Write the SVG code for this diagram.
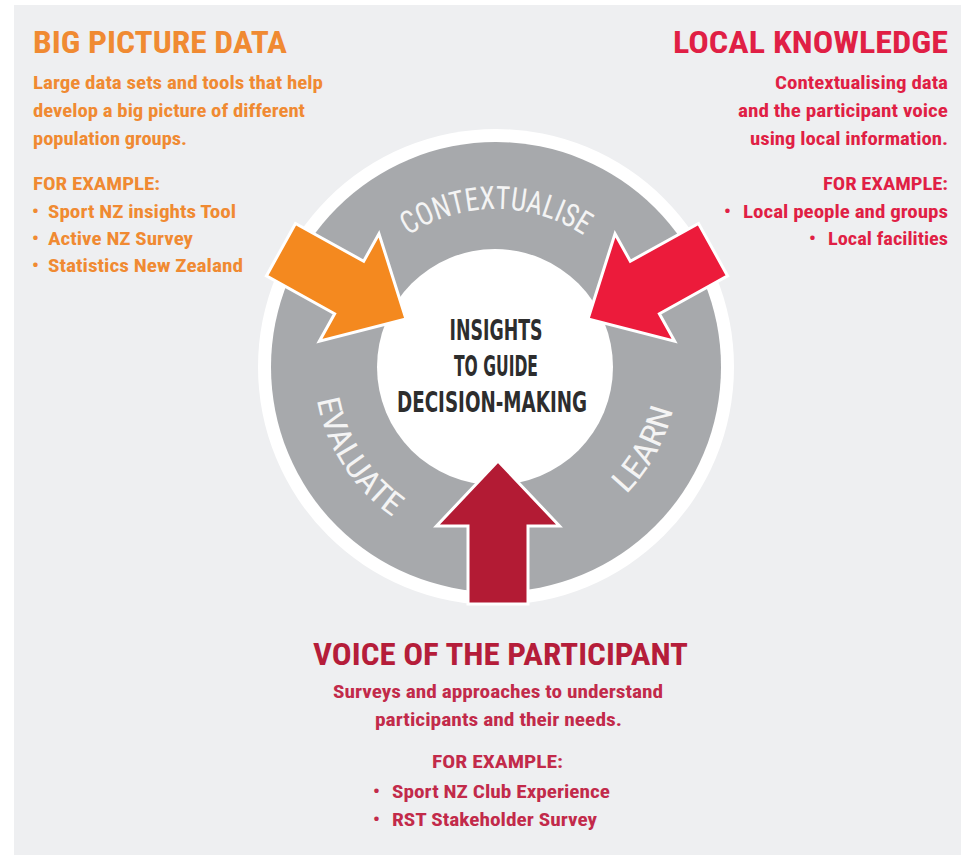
<svg xmlns="http://www.w3.org/2000/svg" xmlns:xlink="http://www.w3.org/1999/xlink" width="961" height="855" viewBox="0 0 961 855">
  <style>
    .f { font-family: "Liberation Sans Narrow", "Roboto Condensed", "DejaVu Sans Condensed", "Liberation Sans", sans-serif; font-weight: bold; }
    .title { font-size: 32px; }
    .body { font-size: 19px; }
    .orange { fill: #f08a32; }
    .red { fill: #e01f45; }
    .maroon-t { fill: #b51d3a; }
    .maroon { fill: #c22a4a; }
    .ring-label { font-family: "Liberation Sans Narrow", "Roboto Condensed", "DejaVu Sans Condensed", "Liberation Sans", sans-serif; font-size: 32px; fill: #f4f4f4; }
    .core { font-family: "Liberation Sans Narrow", "DejaVu Sans Condensed", "Liberation Sans", sans-serif; font-weight: 900; font-size: 29px; fill: #2d2d2d; text-anchor: middle; }
    .arrow { stroke: #ffffff; stroke-width: 3; stroke-linejoin: miter; }
  </style>
  <defs>
    <!-- block arrow, tip at origin, pointing up -->
    <path id="blockArrow" d="M0,0 L61.5,65 L30,65 L30,143 L-30,143 L-30,65 L-61.5,65 Z"/>
    <!-- baseline arcs for the cycle labels -->
    <path id="arcTop" d="M338,367 A158,158 0 0 1 654,367"/>
    <path id="arcLeft" d="M314,367 A182,182 0 0 0 496,549"/>
    <path id="arcRight" d="M496,549 A182,182 0 0 0 678,367"/>
  </defs>

  <!-- background panel -->
  <rect x="0" y="0" width="961" height="855" fill="#ffffff"/>
  <rect x="14" y="5" width="947" height="850" fill="#eeeff1"/>

  <!-- cycle wheel -->
  <g id="wheel">
    <circle cx="496" cy="367" r="238" fill="#ffffff"/>
    <circle cx="496" cy="367" r="225" fill="#a7a9ac"/>
    <circle cx="495" cy="367" r="118" fill="#ffffff"/>
    <text class="ring-label"><textPath xlink:href="#arcTop" href="#arcTop" startOffset="50%" text-anchor="middle" textLength="186" lengthAdjust="spacingAndGlyphs">CONTEXTUALISE</textPath></text>
    <text class="ring-label"><textPath xlink:href="#arcLeft" href="#arcLeft" startOffset="36.6%" text-anchor="middle" textLength="143" lengthAdjust="spacingAndGlyphs">EVALUATE</textPath></text>
    <text class="ring-label"><textPath xlink:href="#arcRight" href="#arcRight" startOffset="67.8%" text-anchor="middle" textLength="98" lengthAdjust="spacingAndGlyphs">LEARN</textPath></text>
  </g>

  <!-- centre node -->
  <g id="insights">
    <text class="core" x="496" y="340" textLength="93" lengthAdjust="spacingAndGlyphs">INSIGHTS</text>
    <text class="core" x="496" y="376" textLength="84" lengthAdjust="spacingAndGlyphs">TO GUIDE</text>
    <text class="core" x="492" y="412" textLength="190" lengthAdjust="spacingAndGlyphs">DECISION-MAKING</text>
  </g>

  <!-- input arrows -->
  <g id="connectors">
    <use xlink:href="#blockArrow" href="#blockArrow" class="arrow" fill="#f4891f" transform="translate(406,319) rotate(119)"/>
    <use xlink:href="#blockArrow" href="#blockArrow" class="arrow" fill="#ec1b3b" transform="translate(588,319) rotate(-119)"/>
    <use xlink:href="#blockArrow" href="#blockArrow" class="arrow" fill="#b31b34" transform="translate(498,461)"/>
  </g>

  <!-- big picture data -->
  <g id="big-picture-data" class="f orange">
    <text class="title" x="33" y="53" textLength="254" lengthAdjust="spacingAndGlyphs">BIG PICTURE DATA</text>
    <text class="body" x="33" y="89" textLength="290" lengthAdjust="spacingAndGlyphs">Large data sets and tools that help</text>
    <text class="body" x="33" y="117" textLength="272" lengthAdjust="spacingAndGlyphs">develop a big picture of different</text>
    <text class="body" x="33" y="145" textLength="154" lengthAdjust="spacingAndGlyphs">population groups.</text>
    <text class="body" x="33" y="190" textLength="127" lengthAdjust="spacingAndGlyphs">FOR EXAMPLE:</text>
    <text class="body" x="32" y="218">•</text>
    <text class="body" x="48" y="218" textLength="188" lengthAdjust="spacingAndGlyphs">Sport NZ insights Tool</text>
    <text class="body" x="32" y="245">•</text>
    <text class="body" x="48" y="245" textLength="145" lengthAdjust="spacingAndGlyphs">Active NZ Survey</text>
    <text class="body" x="32" y="272">•</text>
    <text class="body" x="48" y="272" textLength="195" lengthAdjust="spacingAndGlyphs">Statistics New Zealand</text>
  </g>

  <!-- local knowledge -->
  <g id="local-knowledge" class="f red">
    <text class="title" x="673" y="53" textLength="275" lengthAdjust="spacingAndGlyphs">LOCAL KNOWLEDGE</text>
    <text class="body" x="775" y="89" textLength="173" lengthAdjust="spacingAndGlyphs">Contextualising data</text>
    <text class="body" x="738" y="117" textLength="210" lengthAdjust="spacingAndGlyphs">and the participant voice</text>
    <text class="body" x="750" y="145" textLength="198" lengthAdjust="spacingAndGlyphs">using local information.</text>
    <text class="body" x="823" y="190" textLength="125" lengthAdjust="spacingAndGlyphs">FOR EXAMPLE:</text>
    <text class="body" x="724" y="218">•</text>
    <text class="body" x="743" y="218" textLength="205" lengthAdjust="spacingAndGlyphs">Local people and groups</text>
    <text class="body" x="809" y="245">•</text>
    <text class="body" x="828" y="245" textLength="120" lengthAdjust="spacingAndGlyphs">Local facilities</text>
  </g>

  <!-- voice of the participant -->
  <g id="voice-of-the-participant" class="f">
    <text class="title maroon-t" x="313" y="665" font-size="31" textLength="375" lengthAdjust="spacingAndGlyphs">VOICE OF THE PARTICIPANT</text>
    <text class="body maroon" x="333" y="698" textLength="330" lengthAdjust="spacingAndGlyphs">Surveys and approaches to understand</text>
    <text class="body maroon" x="375" y="726" textLength="247" lengthAdjust="spacingAndGlyphs">participants and their needs.</text>
    <text class="body maroon" x="432" y="768" textLength="131" lengthAdjust="spacingAndGlyphs">FOR EXAMPLE:</text>
    <text class="body maroon" x="373" y="798">•</text>
    <text class="body maroon" x="392" y="798" textLength="218" lengthAdjust="spacingAndGlyphs">Sport NZ Club Experience</text>
    <text class="body maroon" x="373" y="826">•</text>
    <text class="body maroon" x="392" y="826" textLength="205" lengthAdjust="spacingAndGlyphs">RST Stakeholder Survey</text>
  </g>
</svg>
